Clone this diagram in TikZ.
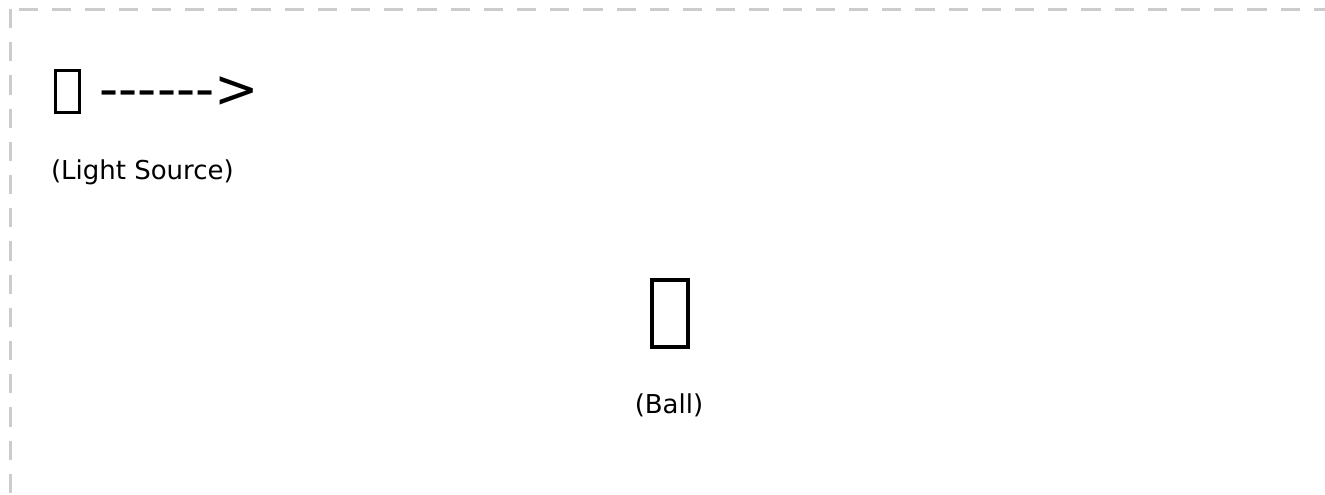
\documentclass[tikz,border=0pt]{standalone}
\usepackage{fontspec}
\setmainfont{DejaVu Sans}
\definecolor{framegray}{HTML}{CCCCCC}
\newcommand{\hy}{-\kern0pt}
\begin{document}
\begin{tikzpicture}[x=1pt,y=-1pt,
  frameline/.style={draw=framegray, line width=3pt, dash pattern=on 19.2pt off 14pt},
  tofu/.style={draw=black, fill=white, inner sep=0pt, outer sep=0pt},
  bigtext/.style={inner sep=0pt, outer sep=0pt, font=\fontsize{53}{60}\selectfont},
  labeltext/.style={inner sep=0pt, outer sep=0pt, font=\fontsize{26}{30}\selectfont}]
\useasboundingbox (0,0) rectangle (1325,495);
% dashed frame
\coordinate (v1) at (10,9);
\coordinate (v2) at (10,520);
\coordinate (h1) at (19,10);
\coordinate (h2) at (1345,10);
\draw[frameline] (v1) -- (v2);
\draw[frameline] (h1) -- (h2);
% light source
\node[tofu, line width=3pt, minimum width=24pt, minimum height=42pt] (lamp) at (67.5,91.5) {};
\node[bigtext, anchor=base west] (beam) at (99.6,107) {\hy\hy\hy\hy\hy\hy>};
\node[labeltext, anchor=base west] (lamplabel) at (51,179.5) {(Light Source)};
% ball
\node[tofu, line width=4pt, minimum width=36pt, minimum height=67pt] (ball) at (670,313.5) {};
\node[labeltext, anchor=base] (balllabel) at (669,413.7) {(Ball)};
\end{tikzpicture}
\end{document}
